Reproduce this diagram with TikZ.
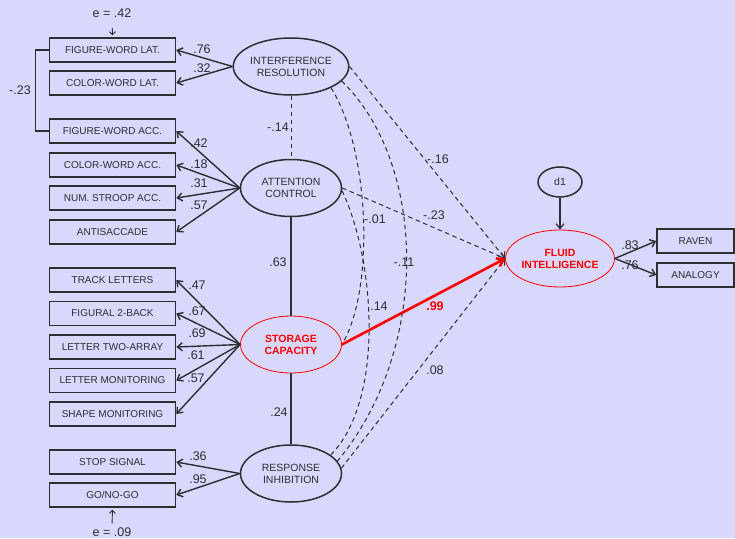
\documentclass[tikz,border=0pt]{standalone}
\usepackage{fontspec}
\setmainfont{Liberation Sans}
\usetikzlibrary{shapes.geometric,arrows.meta}
\definecolor{bg}{RGB}{216,216,252}
\definecolor{ink}{RGB}{45,45,50}
\begin{document}
\begin{tikzpicture}[x=1pt,y=-1pt,
 box/.style={draw=ink,line width=1.5pt,minimum width=126pt,minimum height=24pt,inner sep=0pt,font=\fontsize{10}{12}\selectfont,text=ink},
 lat/.style={ellipse,draw=ink,line width=1.5pt,minimum width=101pt,minimum height=57pt,inner sep=0pt,align=center,font=\fontsize{10.5}{12}\selectfont,text=ink},
 redlat/.style={lat,draw=red,line width=0.8pt,text=red,font=\bfseries\fontsize{10.5}{12}\selectfont},
 lbl/.style={font=\fontsize{12.5}{14}\selectfont,text=ink,inner sep=0pt},
 load/.style={draw=ink,line width=1.4pt,-{Straight Barb[length=5pt,width=8pt]}},
 dsh/.style={draw=ink,line width=1pt,dash pattern=on 4.5pt off 3.5pt},
 dsharr/.style={dsh,-{Straight Barb[length=5pt,width=8pt]}},
 pathline/.style={draw=ink,line width=1.4pt},
]
\useasboundingbox (0,0) rectangle (735,538);
\fill[bg] (0,0) rectangle (735,538);

% indicator boxes
\node[box] (fwl) at (112.5,50) {FIGURE-WORD LAT.};
\node[box] (cwl) at (112.5,83) {COLOR-WORD LAT.};
\node[box] (fwa) at (112.5,131) {FIGURE-WORD ACC.};
\node[box] (cwa) at (112.5,165) {COLOR-WORD ACC.};
\node[box] (nsa) at (112.5,198) {NUM. STROOP ACC.};
\node[box] (anti) at (112.5,232) {ANTISACCADE};
\node[box] (tl) at (112.5,280) {TRACK LETTERS};
\node[box] (f2b) at (112.5,313.5) {FIGURAL 2-BACK};
\node[box] (lta) at (112.5,347) {LETTER TWO-ARRAY};
\node[box] (lm) at (112.5,380.5) {LETTER MONITORING};
\node[box] (sm) at (112.5,414) {SHAPE MONITORING};
\node[box] (ss) at (112.5,462) {STOP SIGNAL};
\node[box] (gng) at (112.5,495) {GO/NO-GO};
\node[box,minimum width=77pt] (raven) at (695.5,241) {RAVEN};
\node[box,minimum width=77pt] (analogy) at (695.5,275) {ANALOGY};

% latent variables
\node[lat] (ir) at (291,66.5) {INTERFERENCE\\RESOLUTION};
\node[lat] (ac) at (291,188) {ATTENTION\\CONTROL};
\node[redlat] (sc) at (291,344.5) {STORAGE\\CAPACITY};
\node[lat] (ri) at (291,473.5) {RESPONSE\\INHIBITION};
\node[redlat,minimum width=100pt] (fi) at (560,258.5) {FLUID\\INTELLIGENCE};
\node[lat,minimum width=44pt,minimum height=30pt] (d1) at (560,182) {d1};

% error terms
\node[lbl] (e1) at (112,13) {e = .42};
\node[lbl] (e2) at (112,532) {e = .09};
\draw[draw=ink,line width=0.9pt,-{Straight Barb[length=3pt,width=6pt]},shorten <=10pt,shorten >=2pt] (e1.south) -- (fwl.north);
\draw[draw=ink,line width=0.9pt,-{Straight Barb[length=3pt,width=6pt]},shorten <=4pt,shorten >=2pt] (e2.north) -- (gng.south);

% correlated error
\draw[pathline,line width=1.2pt] (fwl.west) -- ++(-13,0) |- (fwa.west);
\node[lbl] (c23) at (20,90) {-.23};

% loadings
\draw[load] (ir.west) -- (fwl.east);
\draw[load] (ir.west) -- (cwl.east);
\draw[load] (ac.west) -- (fwa.east);
\draw[load] (ac.west) -- (cwa.east);
\draw[load] (ac.west) -- (nsa.east);
\draw[load] (ac.west) -- (anti.east);
\draw[load] (sc.west) -- (tl.east);
\draw[load] (sc.west) -- (f2b.east);
\draw[load] (sc.west) -- (lta.east);
\draw[load] (sc.west) -- (lm.east);
\draw[load] (sc.west) -- (sm.east);
\draw[load] (ri.west) -- (ss.east);
\draw[load] (ri.west) -- (gng.east);
\draw[load] (fi.east) -- (raven.west);
\draw[load] (fi.east) -- (analogy.west);
\draw[load,line width=1.2pt] (d1.south) -- (fi.north);

\node[lbl] at (202,49) {.76};
\node[lbl] at (202,68) {.32};
\node[lbl] at (199,143) {.42};
\node[lbl] at (199,164) {.18};
\node[lbl] at (199,183) {.31};
\node[lbl] at (199,205) {.57};
\node[lbl] at (197,285) {.47};
\node[lbl] at (197,311) {.67};
\node[lbl] at (197,333) {.69};
\node[lbl] at (196,355) {.61};
\node[lbl] at (196,378) {.57};
\node[lbl] at (198,456) {.36};
\node[lbl] at (198,479) {.95};
\node[lbl] at (630,245) {.83};
\node[lbl] at (630,265) {.76};

% latent correlations
\draw[dsh] (ir.south) -- (ac.north);
\draw[pathline] (ac.south) -- (sc.north);
\draw[pathline] (sc.south) -- (ri.north);
\node[lbl] at (278,127) {-.14};
\node[lbl] at (278,262) {.63};
\node[lbl] at (279,412) {.24};

\draw[dsh] (ir.-28) .. controls (370,150) and (375,290) .. (sc.east);
\draw[dsh] (ir.-16) .. controls (428,165) and (430,350) .. (ri.15);
\draw[dsh] (ac.-3) .. controls (375,260) and (385,400) .. (ri.25);
\node[lbl] at (375,219) {-.01};
\node[lbl] at (404,262) {-.11};
\node[lbl] at (379,306) {.14};

% paths to fluid intelligence
\draw[dsharr] (ir.east) -- (fi.west);
\draw[dsharr] (ac.east) -- (fi.west);
\draw[dsharr] (ri.6) -- (fi.west);
\draw[draw=red,line width=2.6pt,-{Straight Barb[length=6pt,width=9pt]}] (sc.east) -- (fi.west);
\node[lbl] at (438,159) {-.16};
\node[lbl] at (434,215) {-.23};
\node[lbl,text=red,font=\bfseries\fontsize{12.5}{14}\selectfont] at (435,306) {.99};
\node[lbl] at (435,370) {.08};
\end{tikzpicture}
\end{document}
